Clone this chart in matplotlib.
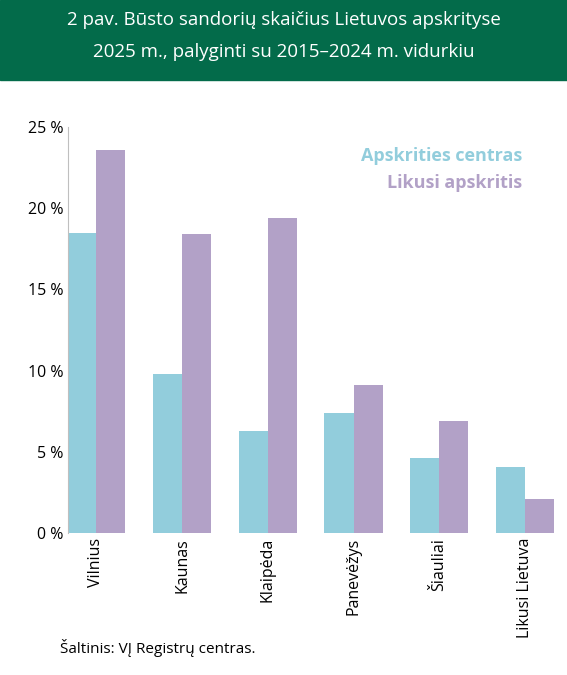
import numpy as np
import matplotlib.pyplot as plt

regions = ['Vilnius', 'Kaunas', 'Klaipėda', 'Panevėžys', 'Šiauliai', 'Likusi Lietuva']
centre = [18.5, 9.8, 6.3, 7.4, 4.6, 4.1]
rest = [23.6, 18.4, 19.4, 9.1, 6.9, 2.1]

plt.rcParams['font.family'] = ['Open Sans', 'DejaVu Sans']

fig = plt.figure(figsize=(5.67, 6.75), dpi=100)
fig.patches.append(plt.Rectangle((0, 1 - 80 / 675), 1, 80 / 675, transform=fig.transFigure,
                                 color='#036b4a', zorder=0))
fig.text(0.5, 1 - 20 / 675, '2 pav. Būsto sandorių skaičius Lietuvos apskrityse',
         ha='center', va='center', color='white', fontsize=13.5)
fig.text(0.5, 1 - 52 / 675, '2025 m., palyginti su 2015–2024 m. vidurkiu',
         ha='center', va='center', color='white', fontsize=13.5)

ax = fig.add_axes([0.12, 0.21, 0.862, 0.602])
x = np.arange(len(regions))
w = 0.34
ax.bar(x - w / 2, centre, w, color='#92cddc')
ax.bar(x + w / 2, rest, w, color='#b2a1c7')
ax.set_ylim(0, 25)
ax.set_xlim(-0.33, len(regions) - 0.63)
ax.set_yticks(range(0, 26, 5))
ax.set_yticklabels([f'{v} %' for v in range(0, 26, 5)], fontsize=11.5)
ax.set_xticks(x)
ax.set_xticklabels(regions, rotation=90, fontsize=11.5)
ax.tick_params(length=0)
for s in ['top', 'right', 'bottom']:
    ax.spines[s].set_visible(False)
ax.spines['left'].set_color('#bfbfbf')

ax.text(0.93, 0.915, 'Apskrities centras', transform=ax.transAxes, ha='right',
        color='#92cddc', fontsize=13, fontweight='bold')
ax.text(0.93, 0.85, 'Likusi apskritis', transform=ax.transAxes, ha='right',
        color='#b2a1c7', fontsize=13, fontweight='bold')

fig.text(60 / 567, 1 - 648 / 675, 'Šaltinis: VĮ Registrų centras.', fontsize=11, va='center')

fig.savefig('out.png')
